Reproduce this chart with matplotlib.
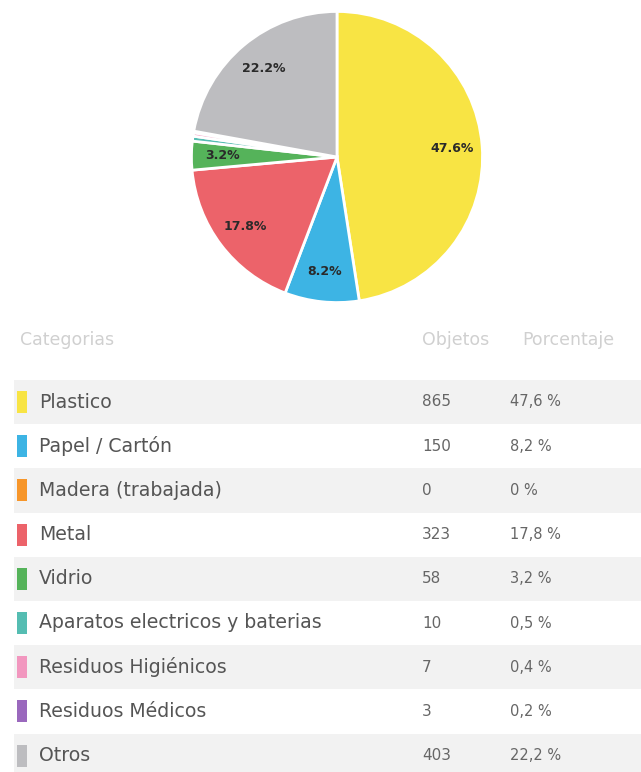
import matplotlib
matplotlib.use("Agg")
import matplotlib.pyplot as plt
from matplotlib.patches import Rectangle

categories = ["Plastico", "Papel / Cartón", "Madera (trabajada)", "Metal", "Vidrio",
              "Aparatos electricos y baterias", "Residuos Higiénicos", "Residuos Médicos", "Otros"]
objetos = [865, 150, 0, 323, 58, 10, 7, 3, 403]
porcentaje = ["47,6 %", "8,2 %", "0 %", "17,8 %", "3,2 %", "0,5 %", "0,4 %", "0,2 %", "22,2 %"]
colors = ["#f8e444", "#3db4e4", "#f7962a", "#ec636a", "#55b35a", "#55bdb2", "#f297bf", "#9a68bd", "#bdbdc0"]
headers = ["Categorias", "Objetos", "Porcentaje"]

plt.rcParams['font.family'] = ['DejaVu Sans']

W, H = 641, 772
fig = plt.figure(figsize=(W / 100, H / 100), dpi=100)
fig.patch.set_facecolor("white")

# ---- pie ----
cx, cy, r = 337, 157, 147
axp = fig.add_axes([(cx - r) / W, 1 - (cy + r) / H, 2 * r / W, 2 * r / H])
vals = [v for v in objetos if v > 0]
cols = [c for v, c in zip(objetos, colors) if v > 0]

def fmt(p):
    return f"{p:.1f}%" if p >= 1 else ""

wedges, texts, autotexts = axp.pie(vals, colors=cols, startangle=90, counterclock=False,
                                   autopct=fmt, pctdistance=0.79,
                                   wedgeprops=dict(edgecolor="white", linewidth=2),
                                   textprops=dict(fontsize=9, fontweight="bold", color="#2a2a2a"))
axp.set_xlim(-1.01, 1.01)
axp.set_ylim(-1.01, 1.01)
axp.set_aspect("equal")
axp.axis("off")

# ---- table ----
axt = fig.add_axes([0, 0, 1, 1])
axt.set_xlim(0, W)
axt.set_ylim(H, 0)
axt.axis("off")

hdr_y = 340
hdr_x = [20, 422, 522]
for x, h in zip(hdr_x, headers):
    axt.text(x, hdr_y, h, fontsize=12.5, color="#d0d0d0", va="center", ha="left")

row0, rh = 402, 44.2
for i, (cat, n, p, c) in enumerate(zip(categories, objetos, porcentaje, colors)):
    y = row0 + rh * i
    if i % 2 == 0:
        axt.add_patch(Rectangle((14, y - rh / 2), W - 14, rh, facecolor="#f2f2f2", edgecolor="none"))
    axt.add_patch(Rectangle((17, y - 11), 10, 22, facecolor=c, edgecolor="none"))
    axt.text(39, y, cat, fontsize=13.6, color="#555555", va="center", ha="left")
    axt.text(422, y, str(n), fontsize=11, color="#666666", va="center", ha="left")
    axt.text(510, y, p, fontsize=10.5, color="#666666", va="center", ha="left")

fig.savefig("out.png", dpi=100, facecolor="white")
